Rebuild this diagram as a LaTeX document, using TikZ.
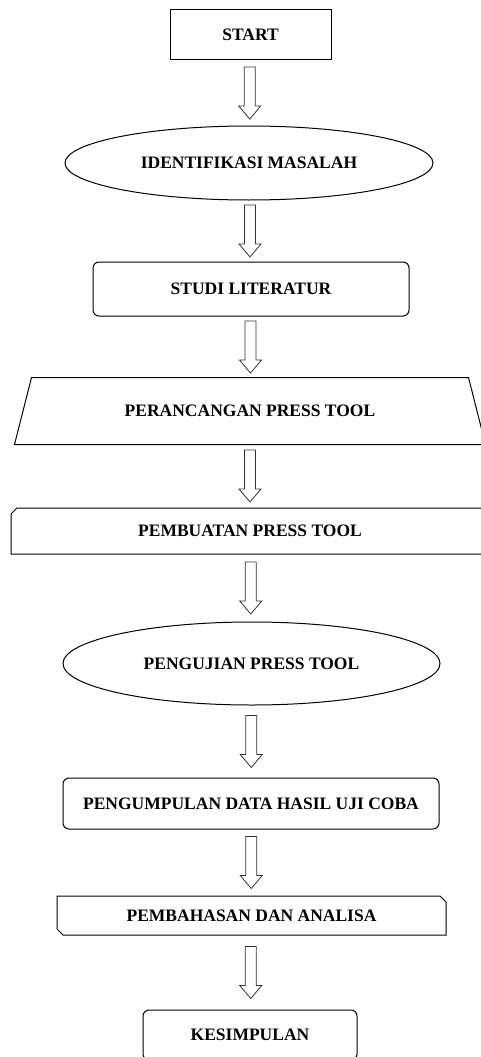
\documentclass[tikz,border=0pt]{standalone}
\usepackage{fontspec}
\setmainfont{Liberation Serif}
\usetikzlibrary{calc,shapes.geometric,shapes.misc}

% block arrow between two named nodes
\newcommand{\flowarrow}[2]{%
  \draw[blockarrow] let \p1=($(#1.south)!0.5!(#2.north)$) in
    (\x1-5.5pt,\y1+26pt) -- (\x1+5.5pt,\y1+26pt) -- (\x1+5.5pt,\y1-13pt)
    -- (\x1+11pt,\y1-13pt) -- (\x1,\y1-26pt) -- (\x1-11pt,\y1-13pt)
    -- (\x1-5.5pt,\y1-13pt) -- cycle;}

\tikzset{
  box/.style={draw, line width=1pt, inner sep=0pt,
    font=\bfseries\fontsize{17.5}{20}\selectfont},
  roundbox/.style={box, rounded corners=6pt},
  ovalbox/.style={box, ellipse},
  snipbox/.style={box, chamfered rectangle, chamfered rectangle sep=3pt},
  outline/.style={line width=1pt}
}
\tikzset{blockarrow/.style={draw=black!80, line width=0.8pt, fill=white}}

\begin{document}
\begin{tikzpicture}[x=1pt,y=-1pt]
    \useasboundingbox (0,0) rectangle (481,1057);
    \clip (0,0) rectangle (481,1057);

    % langkah-langkah
    \node[box, minimum width=161pt, minimum height=50pt] (start) at (250.5,35) {START};
    \node[ovalbox, minimum width=368pt, minimum height=74pt] (masalah) at (249,163) {IDENTIFIKASI MASALAH};
    \node[roundbox, minimum width=316pt, minimum height=54pt] (literatur) at (251,289) {STUDI LITERATUR};
    \node[box, draw=none, minimum width=470pt, minimum height=66pt] (perancangan) at (250,411) {PERANCANGAN PRESS TOOL};
    \draw[outline] ($(perancangan.north west)+(17pt,0)$) -- ($(perancangan.north east)+(-17pt,0)$)
      -- (perancangan.south east) -- (perancangan.south west) -- cycle;
    \node[snipbox, chamfered rectangle corners={north west,south east},
      minimum width=478pt, minimum height=46pt] (pembuatan) at (250,531) {PEMBUATAN PRESS TOOL};
    \node[ovalbox, minimum width=377pt, minimum height=83pt] (pengujian) at (251.5,663.5) {PENGUJIAN PRESS TOOL};
    \node[roundbox, minimum width=376pt, minimum height=51pt] (pengumpulan) at (251,803.5) {PENGUMPULAN DATA HASIL UJI COBA};
    \node[snipbox, chamfered rectangle corners={north east,south west},
      minimum width=389pt, minimum height=39pt] (pembahasan) at (251.5,915.5) {PEMBAHASAN DAN ANALISA};
    \node[roundbox, minimum width=214pt, minimum height=50pt] (kesimpulan) at (250,1035) {KESIMPULAN};

    % panah
    \foreach \a/\b in {start/masalah, masalah/literatur, literatur/perancangan,
      perancangan/pembuatan, pembuatan/pengujian, pengujian/pengumpulan,
      pengumpulan/pembahasan, pembahasan/kesimpulan}
      \flowarrow{\a}{\b};
\end{tikzpicture}
\end{document}
